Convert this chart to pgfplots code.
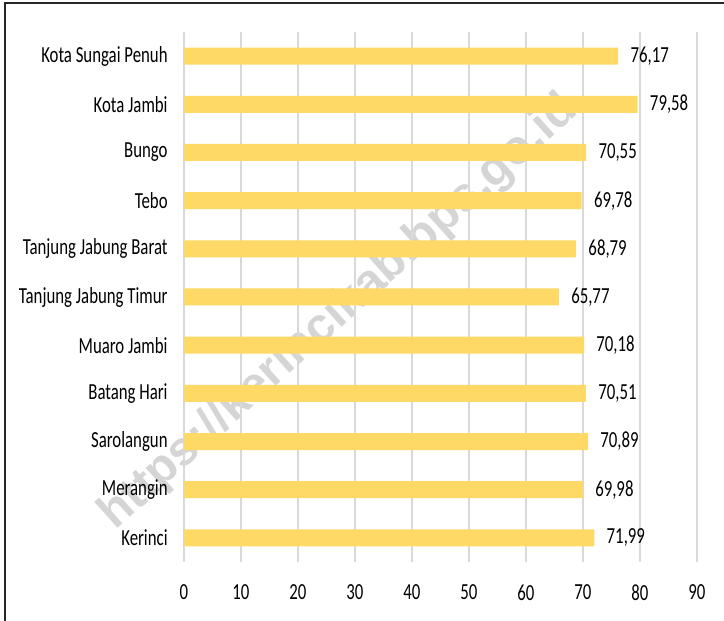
\documentclass[border=0pt]{standalone}
\usepackage{fontspec}
\setmainfont{Carlito}[FakeStretch=0.73]
\newfontfamily\wmfont{Liberation Sans}
\usepackage{pgfplots}
\pgfplotsset{compat=1.18}
\definecolor{barc}{HTML}{FFD966}
\definecolor{gridc}{HTML}{D9D9D9}
\begin{document}
\begin{tikzpicture}
\useasboundingbox (0,0) rectangle (362pt,310.5pt);
\clip (0,0) rectangle (362pt,310.5pt);
\node[rotate=42, text=gray!33, font=\wmfont\bfseries\fontsize{24}{29}\selectfont] at (169.5pt,154pt) {https://kerincikab.bps.go.id};
\begin{axis}[
  at={(92pt,29.5pt)}, anchor=south west, scale only axis,
  width=256.5pt, height=265pt,
  xbar, bar width=8.5pt,
  xmin=0, xmax=90, ymin=-0.5, ymax=10.5,
  xtick={0,10,...,90}, ytick={0,...,10},
  yticklabels={Kerinci,Merangin,Sarolangun,Batang Hari,Muaro Jambi,Tanjung Jabung Timur,Tanjung Jabung Barat,Tebo,Bungo,Kota Jambi,Kota Sungai Penuh},
  axis line style={draw=none},
  major tick length=0pt,
  xmajorgrids, grid style={gridc, line width=0.6pt},
  ticklabel style={font=\fontsize{11.5}{13}\selectfont},
  /pgf/number format/assume math mode=true,
  xticklabel style={yshift=-8pt},
  yticklabel style={inner sep=0pt, xshift=-8pt},
  nodes near coords={\pgfmathprintnumber[fixed,fixed zerofill,precision=2,use comma,assume math mode=true]{\pgfplotspointmeta}},
  nodes near coords style={anchor=west, inner sep=0pt, xshift=6pt, font=\fontsize{11.5}{13}\selectfont, text=black},
  clip=false,
]
\addplot[fill=barc, draw=none] coordinates {
  (71.99,0) (69.98,1) (70.89,2) (70.51,3) (70.18,4) (65.77,5)
  (68.79,6) (69.78,7) (70.55,8) (79.58,9) (76.17,10)
};
\end{axis}
\draw[line width=1.1pt, color=black!85] (2.5pt,-10pt) -- (2.5pt,309pt) -- (400pt,309pt);
\end{tikzpicture}
\end{document}
